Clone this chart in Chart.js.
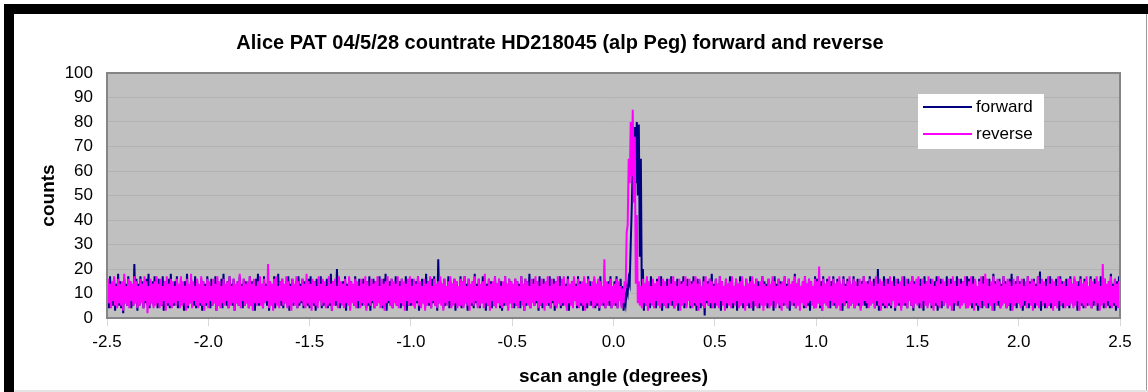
<!DOCTYPE html>
<html>
<head>
<meta charset="utf-8">
<script src="https://cdn.jsdelivr.net/npm/chart.js@4.4.1/dist/chart.umd.min.js"></script>
<style>
  html, body { margin: 0; padding: 0; background: #fff; }
  #wrap { position: relative; width: 1148px; height: 392px; overflow: hidden; }
  #item_chart { position: absolute; left: 0; top: 0; }
  .frame { position: absolute; background: #000; }
</style>
</head>
<body>
<div id="wrap">
  <canvas id="item_chart" width="1148" height="392"></canvas>
  <div class="frame" style="left:4px;top:4px;width:1144px;height:10px;"></div>
  <div class="frame" style="left:4px;top:4px;width:10px;height:388px;"></div>
  <div class="frame" style="left:1146px;top:14px;width:1px;height:378px;background:#999;"></div>
  <div class="frame" style="left:14px;top:390px;width:1134px;height:2px;background:#e4e4e4;"></div>
</div>
<script>
// scan angle bins (degrees); the trace is so dense that each 0.01 deg bin
// shows as a vertical stroke from a low to a high count
const angleStart = -2.5;
const angleStep = 0.01;

// forward scan: low / high count in each bin, -2.50 .. 2.50 (25 per row)
const forwardLow = [
  6,4,7,5,3,6,5,4,2,6,5,7,4,5,6,3,5,7,4,6,5,4,6,5,7,
  4,6,5,3,7,5,4,6,5,7,4,5,6,3,5,4,6,7,5,4,6,5,3,6,5,
  7,4,5,6,3,5,6,4,7,5,4,6,5,3,6,5,7,4,5,6,4,5,7,3,6,
  5,6,4,7,5,3,6,5,4,6,7,5,4,6,5,3,7,5,6,4,5,6,4,7,5,
  4,6,5,3,6,7,4,5,6,4,5,3,6,5,7,4,6,5,3,6,4,7,5,6,4,
  6,5,7,4,5,3,6,4,5,7,6,4,5,3,6,5,4,7,5,6,4,5,6,3,5,
  5,7,4,6,3,5,6,4,7,5,4,6,5,3,6,7,4,5,6,4,5,7,3,6,5,
  4,5,6,3,7,5,4,6,5,4,6,7,3,5,6,4,5,6,7,4,3,5,6,4,6,
  6,4,5,7,4,6,3,5,6,4,7,5,6,3,5,4,6,7,5,4,6,3,5,6,4,
  5,6,4,3,6,5,7,4,6,5,3,6,4,7,5,6,4,5,3,6,5,4,6,5,4,
  6,5,4,7,5,3,6,10,14,45,50,55,50,25,6,3,5,6,4,7,5,4,6,5,3,
  5,6,4,7,5,4,6,3,5,6,4,5,7,4,6,5,3,6,4,5,1,6,5,4,6,
  4,6,5,3,7,5,4,6,5,4,6,3,5,7,4,6,5,4,6,3,5,6,4,7,5,
  6,4,5,7,3,5,6,4,6,5,7,4,3,6,5,4,6,5,7,4,6,5,3,6,4,
  5,6,4,3,6,7,5,4,6,5,4,6,7,3,5,6,4,5,6,4,7,5,4,6,5,
  4,5,7,6,4,5,3,6,5,4,6,5,4,7,3,6,5,4,6,5,4,7,5,3,6,
  6,4,5,3,6,5,7,4,6,5,3,6,4,5,7,4,6,5,3,6,5,4,6,7,4,
  5,7,4,6,5,3,6,4,5,7,4,6,5,3,6,5,4,7,6,4,5,3,6,5,4,
  6,5,3,5,7,4,6,5,4,6,5,3,7,4,6,5,4,6,5,7,3,5,4,6,5,
  4,6,5,7,3,6,5,4,6,5,7,4,5,6,3,5,6,4,7,5,4,6,5,3,6,
  5
];
const forwardHigh = [
  15,17,13,16,14,18,15,13,16,14,17,15,13,22,16,14,17,15,13,16,18,14,15,17,13,
  16,14,17,15,13,16,18,14,15,17,13,16,14,15,18,13,16,14,17,15,13,16,15,14,17,
  14,16,13,17,15,14,16,18,13,15,17,14,16,13,15,17,14,16,15,13,17,15,14,16,18,
  15,13,17,14,16,15,13,17,14,18,15,16,13,15,17,14,16,13,15,17,14,16,15,13,16,
  17,14,15,16,13,17,15,14,16,13,18,15,14,20,16,13,15,17,14,16,15,13,17,14,16,
  14,16,13,15,17,14,16,15,13,17,14,16,18,13,15,16,14,17,13,15,16,14,17,15,13,
  16,13,15,17,14,16,13,18,15,14,16,17,13,24,15,14,16,13,17,15,14,16,15,13,17,
  15,17,14,16,13,15,18,14,16,13,17,15,14,16,15,13,17,14,16,15,13,17,14,16,15,
  13,16,15,14,17,13,16,15,18,14,16,13,15,17,14,16,13,15,17,14,16,15,13,17,14,
  16,14,17,13,15,16,14,17,15,13,16,14,17,15,13,16,14,15,17,13,16,14,15,17,13,
  15,17,14,16,13,9,12,16,30,62,78,80,79,65,20,14,16,13,17,15,14,16,13,17,15,
  14,16,13,17,15,14,16,13,15,17,14,16,13,15,17,14,16,15,13,17,14,15,16,18,14,
  16,14,17,15,13,16,14,17,15,13,16,14,17,15,13,16,14,17,15,13,16,15,14,17,15,
  14,16,13,15,17,14,16,15,13,17,14,16,13,15,18,14,16,13,15,17,14,16,15,13,17,
  16,13,15,17,14,16,13,15,17,14,16,15,13,17,14,16,15,13,17,14,16,13,15,17,14,
  15,17,14,16,13,20,15,14,17,13,16,15,14,17,13,16,14,15,17,13,16,14,17,15,13,
  14,16,13,17,15,14,16,13,15,17,14,16,15,13,17,14,16,13,15,17,14,16,15,13,17,
  16,14,17,15,13,16,14,17,15,13,16,14,18,15,13,16,14,17,15,13,16,18,14,15,17,
  15,13,16,14,17,15,13,16,14,17,19,15,13,16,14,17,15,13,16,14,17,15,13,16,14,
  17,14,16,13,15,17,14,16,15,13,17,14,16,15,13,17,14,16,13,15,18,14,16,15,17,
  15
];

// reverse scan: low / high count in each bin
const reverseLow = [
  5,6,4,7,5,4,6,5,3,6,5,4,7,5,6,4,5,6,4,7,2,5,6,4,5,
  6,4,5,7,3,6,5,4,6,5,7,4,5,6,3,5,6,4,7,5,4,6,5,3,6,
  4,7,5,6,3,5,4,6,5,7,4,5,6,3,6,5,4,7,5,6,4,5,3,6,5,
  6,5,4,6,7,4,5,3,6,5,4,7,5,6,4,5,3,6,5,4,6,7,5,4,6,
  5,3,6,5,4,7,5,6,4,5,6,3,5,7,4,6,5,4,6,5,3,6,5,4,7,
  4,6,5,3,6,5,7,4,5,6,4,5,3,6,7,5,4,6,5,4,6,5,3,7,5,
  6,5,4,7,5,4,6,3,5,6,4,7,5,4,6,5,3,6,5,7,4,5,6,4,5,
  5,4,6,5,3,6,5,7,4,5,6,4,6,5,3,7,5,4,6,5,4,6,5,3,6,
  4,6,5,4,7,5,3,6,5,4,6,5,7,4,5,6,3,5,6,4,7,5,4,6,5,
  6,5,3,6,5,4,7,5,4,6,5,3,6,5,7,4,5,6,4,5,6,4,5,7,4,
  5,6,4,7,4,6,12,38,55,58,47,14,6,5,4,6,5,3,6,5,4,7,5,4,6,
  5,4,6,5,7,4,5,6,3,5,6,4,7,5,4,6,5,3,6,5,4,7,5,6,4,
  6,5,4,7,5,3,6,5,4,6,5,7,4,5,6,3,5,6,4,7,5,4,6,5,3,
  5,6,4,5,7,4,6,5,3,6,5,4,7,5,6,4,5,3,6,5,4,6,7,5,4,
  4,6,5,3,6,5,4,7,5,6,4,5,3,6,5,7,4,5,6,4,5,6,3,5,7,
  6,4,5,6,4,7,5,3,6,5,4,6,5,7,4,5,6,3,5,6,4,7,5,4,6,
  5,6,4,7,5,4,6,5,3,6,5,4,7,5,6,4,5,3,6,5,7,4,5,6,4,
  4,5,6,3,6,5,4,7,5,4,6,5,3,6,5,7,4,5,6,4,5,6,3,5,6,
  6,4,5,7,4,6,5,3,6,5,4,7,5,6,4,5,6,3,5,4,7,5,6,4,5,
  5,6,4,5,7,3,6,5,4,6,5,4,7,5,6,3,5,6,4,7,5,4,6,5,4,
  6
];
const reverseHigh = [
  16,14,15,17,13,16,14,15,18,13,16,15,14,17,15,13,16,14,17,15,13,16,14,15,17,
  14,16,13,15,17,14,16,15,13,16,14,17,15,13,16,14,18,15,13,16,14,17,15,13,16,
  15,13,16,14,17,15,13,16,14,15,17,13,16,14,15,18,13,16,14,15,17,14,16,13,15,
  17,14,16,13,22,15,14,16,17,13,15,16,14,17,15,13,16,14,17,15,13,16,14,18,15,
  14,16,15,13,17,14,16,15,13,17,14,15,16,13,17,15,14,16,13,17,15,14,16,15,13,
  16,14,17,15,13,16,14,15,17,13,16,14,15,17,13,16,15,14,17,13,16,15,14,16,17,
  13,16,14,17,15,13,16,14,15,17,13,16,14,15,17,14,16,13,15,17,14,16,15,13,16,
  15,17,13,16,14,15,17,13,16,14,15,18,13,16,14,15,17,14,16,13,15,17,14,16,15,
  14,16,15,13,17,14,16,15,13,16,14,17,15,13,16,14,15,17,13,16,14,15,17,13,16,
  17,13,16,14,15,17,13,16,14,15,17,14,16,13,15,17,14,16,15,13,24,15,14,16,13,
  14,16,15,13,12,15,35,65,80,85,74,42,15,13,16,14,17,15,13,16,14,15,17,13,16,
  15,13,16,14,17,15,13,16,14,15,17,13,16,14,15,17,14,16,13,15,17,14,16,15,13,
  16,14,17,15,13,16,14,15,17,13,16,14,15,17,13,16,14,15,17,14,16,13,15,17,14,
  13,16,14,17,15,13,16,14,15,17,13,16,14,15,17,14,16,13,15,17,14,16,15,13,16,
  15,21,13,16,14,15,17,13,16,14,15,17,14,16,13,15,17,14,16,15,13,16,14,17,15,
  14,16,15,13,17,14,16,15,13,16,14,17,15,13,16,14,15,17,13,16,14,15,17,14,16,
  17,13,16,14,15,17,14,16,13,15,17,14,16,15,13,16,14,17,15,13,16,14,15,17,13,
  15,17,14,16,13,15,17,14,18,16,13,15,17,14,16,15,13,17,14,16,15,13,16,14,17,
  14,16,13,15,17,14,16,15,13,17,14,16,15,13,17,14,16,15,13,17,16,14,15,13,16,
  16,14,17,15,13,16,14,15,17,13,16,15,14,17,15,13,22,16,14,15,17,13,16,14,15,
  14
];

// each bin: low at the bin start, high half a bin later
const toPoints = (lows, highs) => {
  const pts = [];
  lows.forEach((lo, i) => {
    const x = angleStart + i * angleStep;
    pts.push({ x: Math.round(x * 1000) / 1000, y: lo });
    pts.push({ x: Math.round((x + angleStep / 2) * 1000) / 1000, y: highs[i] });
  });
  return pts;
};

const FONT = "'Liberation Sans', Arial, sans-serif";

// grey plot area + frame
const plotArea = {
  id: 'plotArea',
  beforeDraw(chart) {
    const { ctx, chartArea: a } = chart;
    ctx.save();
    ctx.fillStyle = '#c0c0c0';
    ctx.fillRect(a.left, a.top, a.right - a.left, a.bottom - a.top);
    ctx.restore();
  },
  afterDatasetsDraw(chart) {
    const { ctx, chartArea: a } = chart;
    ctx.save();
    ctx.strokeStyle = '#858585';
    ctx.lineWidth = 2;
    ctx.strokeRect(a.left, a.top, a.right - a.left, a.bottom - a.top);
    ctx.restore();
  }
};

// legend box inside the plot, like the original
const boxLegend = {
  id: 'boxLegend',
  afterDraw(chart) {
    const { ctx } = chart;
    ctx.save();
    ctx.fillStyle = '#ffffff';
    ctx.fillRect(918, 94, 126, 55);
    ctx.font = '17px ' + FONT;
    ctx.textBaseline = 'middle';
    chart.data.datasets.forEach((ds, i) => {
      const y = 107 + i * 27;
      ctx.strokeStyle = ds.borderColor;
      ctx.lineWidth = 2;
      ctx.beginPath();
      ctx.moveTo(923, y);
      ctx.lineTo(972, y);
      ctx.stroke();
      ctx.fillStyle = '#000';
      ctx.fillText(ds.label, 976, y);
    });
    ctx.restore();
  }
};

const ctx = document.getElementById('item_chart');

const data = {
  datasets: [
    {
      label: 'forward',
      data: toPoints(forwardLow, forwardHigh),
      borderColor: '#000080',
      borderWidth: 2,
      pointRadius: 0,
      order: 1
    },
    {
      label: 'reverse',
      data: toPoints(reverseLow, reverseHigh),
      borderColor: '#ff00ff',
      borderWidth: 2,
      pointRadius: 0,
      order: 0
    }
  ]
};

const config = {
  type: 'line',
  data: data,
  plugins: [plotArea, boxLegend],
  options: {
    responsive: false,
    animation: false,
    devicePixelRatio: 1,
    layout: { padding: { left: 0, right: 28, top: 0, bottom: 0 } },
    plugins: {
      legend: { display: false },
      tooltip: { enabled: false },
      title: {
        display: true,
        text: 'Alice PAT 04/5/28 countrate HD218045 (alp Peg) forward and reverse',
        color: '#000',
        font: { family: FONT, size: 20, weight: 'bold' },
        padding: { top: 31, bottom: 18 }
      }
    },
    scales: {
      x: {
        type: 'linear',
        min: -2.5,
        max: 2.5,
        afterFit: s => { s.height = 74; },
        ticks: {
          stepSize: 0.5,
          color: '#000',
          font: { family: FONT, size: 17 },
          padding: 6,
          maxRotation: 0,
          callback: v => v.toFixed(1)
        },
        grid: { drawOnChartArea: false, drawTicks: true, tickLength: 8, color: '#d8d8d8' },
        border: { display: false },
        title: {
          display: true,
          text: 'scan angle (degrees)',
          color: '#000',
          font: { family: FONT, size: 19, weight: 'bold' },
          padding: { top: 0, bottom: 4 }
        }
      },
      y: {
        min: 0,
        max: 100,
        afterFit: s => { s.width = 107; },
        ticks: {
          stepSize: 10,
          color: '#000',
          font: { family: FONT, size: 17 },
          padding: 14
        },
        grid: { color: '#b2b2b2', drawTicks: false },
        border: { display: false },
        title: {
          display: true,
          text: 'counts',
          color: '#000',
          font: { family: FONT, size: 19, weight: 'bold' },
          padding: { top: 37, bottom: 0 }
        }
      }
    }
  }
};

new Chart(ctx, config);
</script>
</body>
</html>
